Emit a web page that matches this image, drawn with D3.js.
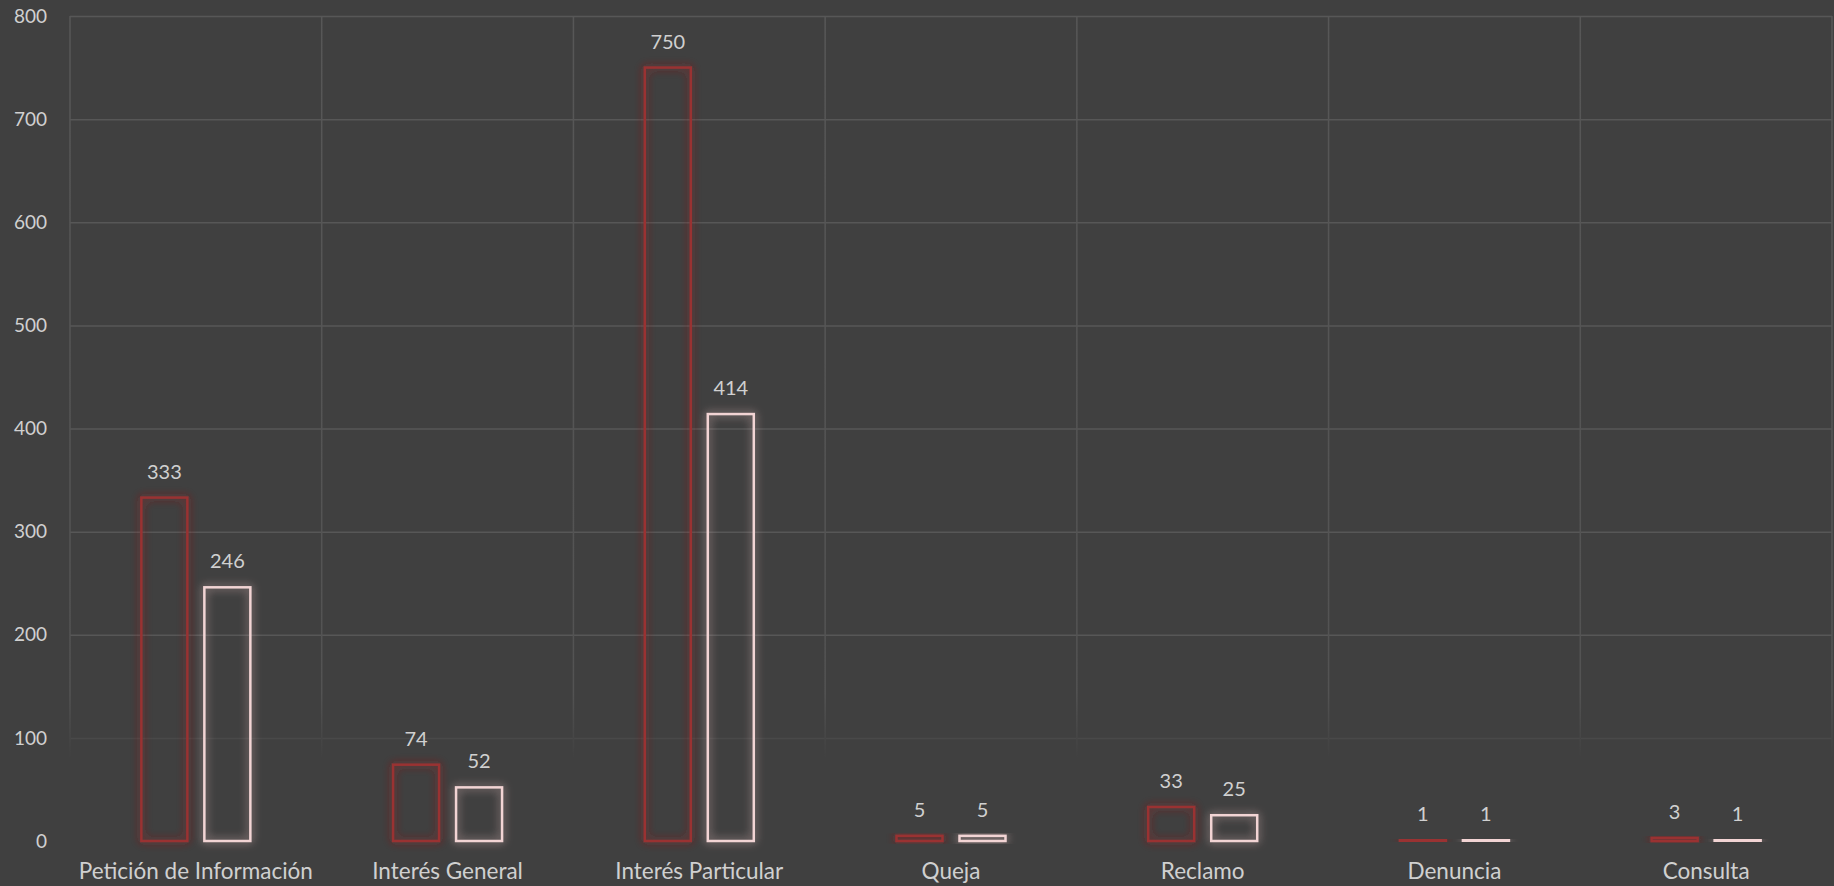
<!DOCTYPE html>
<html>
<head>
<meta charset="utf-8">
<script src="https://cdn.jsdelivr.net/npm/d3@7"></script>
<style>
  html, body { margin: 0; padding: 0; background: #404040; }
  svg { display: block; }
</style>
</head>
<body>
<div id="chart"></div>
<script>
// Data
const categories = ['Petición de Información', 'Interés General', 'Interés Particular', 'Queja', 'Reclamo', 'Denuncia', 'Consulta'];
const seriesA = [333, 74, 750, 5, 33, 1, 3];
const seriesB = [246, 52, 414, 5, 25, 1, 1];
const yTicks = [0, 100, 200, 300, 400, 500, 600, 700, 800];

const width = 1834;
const height = 886;
const margin = { top: 16, right: 2, bottom: 45, left: 70 };

const svg = d3.select('#chart').append('svg')
  .attr('width', width).attr('height', height);

svg.append('rect').attr('width', width).attr('height', height).attr('fill', '#404040');

const defs = svg.append('defs');

// soft glow round the bar outlines
function glow(id, color, op) {
  const f = defs.append('filter').attr('id', id)
    .attr('x', '-50%').attr('y', '-50%').attr('width', '200%').attr('height', '200%');
  f.append('feGaussianBlur').attr('in', 'SourceAlpha').attr('stdDeviation', 5).attr('result', 'b');
  f.append('feFlood').attr('flood-color', color).attr('flood-opacity', op);
  f.append('feComposite').attr('in2', 'b').attr('operator', 'in').attr('result', 'g');
  const m = f.append('feMerge');
  m.append('feMergeNode').attr('in', 'g');
  m.append('feMergeNode').attr('in', 'g');
  m.append('feMergeNode').attr('in', 'SourceGraphic');
}
glow('glowRed', '#9a2c2c', 0.5);
glow('glowPink', '#d8b4b4', 0.45);

const x = d3.scaleBand()
  .domain(categories)
  .range([margin.left, width - margin.right])
  .paddingInner(0).paddingOuter(0);

const y = d3.scaleLinear()
  .domain([0, 800])
  .range([height - margin.bottom, margin.top]);

const font = 'Lato, "Open Sans", sans-serif';

// fading gradient for the lower part of the vertical grid
const grad = defs.append('linearGradient').attr('id', 'vgrid')
  .attr('gradientUnits', 'userSpaceOnUse')
  .attr('x1', 0).attr('x2', 0).attr('y1', margin.top).attr('y2', height - margin.bottom);
grad.append('stop').attr('offset', '0%').attr('stop-color', '#575757');
grad.append('stop').attr('offset', '82%').attr('stop-color', '#535353');
grad.append('stop').attr('offset', '90%').attr('stop-color', '#404040');

// horizontal grid
svg.append('g')
  .selectAll('line')
  .data(yTicks.filter(d => d > 0))
  .join('line')
  .attr('x1', margin.left).attr('x2', width - margin.right)
  .attr('y1', d => y(d) + 0.5).attr('y2', d => y(d) + 0.5)
  .attr('stroke', d => d === 100 ? '#494949' : '#575757')
  .attr('stroke-width', 1.5);

// vertical grid at category boundaries
const bounds = categories.map(c => x(c)).concat([width - margin.right]);
svg.append('g')
  .selectAll('line')
  .data(bounds)
  .join('line')
  .attr('x1', d => d).attr('x2', d => d)
  .attr('y1', margin.top).attr('y2', height - margin.bottom)
  .attr('stroke', 'url(#vgrid)')
  .attr('stroke-width', 1.5);

// y axis labels
svg.append('g')
  .selectAll('text')
  .data(yTicks)
  .join('text')
  .attr('x', 47)
  .attr('y', d => y(d))
  .attr('dy', '0.35em')
  .attr('text-anchor', 'end')
  .attr('font-family', font)
  .attr('font-size', 19)
  .attr('fill', '#d0d0d0')
  .text(d => d);

// category labels
svg.append('g')
  .selectAll('text')
  .data(categories)
  .join('text')
  .attr('x', d => x(d) + x.bandwidth() / 2)
  .attr('y', 871)
  .attr('dy', '0.35em')
  .attr('text-anchor', 'middle')
  .attr('font-family', font)
  .attr('font-size', 22.5)
  .attr('fill', '#d0d0d0')
  .text(d => d);

// bars
const barW = 46;
const gap = 17;
const series = [
  { values: seriesA, stroke: '#9a3232', filter: 'url(#glowRed)', offset: -(gap / 2 + barW) },
  { values: seriesB, stroke: '#f2d4d4', filter: 'url(#glowPink)', offset: gap / 2 }
];

series.forEach(s => {
  const g = svg.append('g');
  g.selectAll('rect')
    .data(categories)
    .join('rect')
    .attr('x', (d, i) => x(d) + x.bandwidth() / 2 + s.offset)
    .attr('y', (d, i) => y(s.values[i]))
    .attr('width', barW)
    .attr('height', (d, i) => y(0) - y(s.values[i]))
    .attr('fill', 'none')
    .attr('stroke', s.stroke)
    .attr('stroke-width', 2.5)
    .attr('filter', s.filter);

  g.selectAll('text')
    .data(categories)
    .join('text')
    .attr('x', (d, i) => x(d) + x.bandwidth() / 2 + s.offset + barW / 2)
    .attr('y', (d, i) => y(s.values[i]) - 19)
    .attr('text-anchor', 'middle')
    .attr('font-family', font)
    .attr('font-size', 20)
    .attr('fill', '#d0d0d0')
    .text((d, i) => s.values[i]);
});
</script>
</body>
</html>
